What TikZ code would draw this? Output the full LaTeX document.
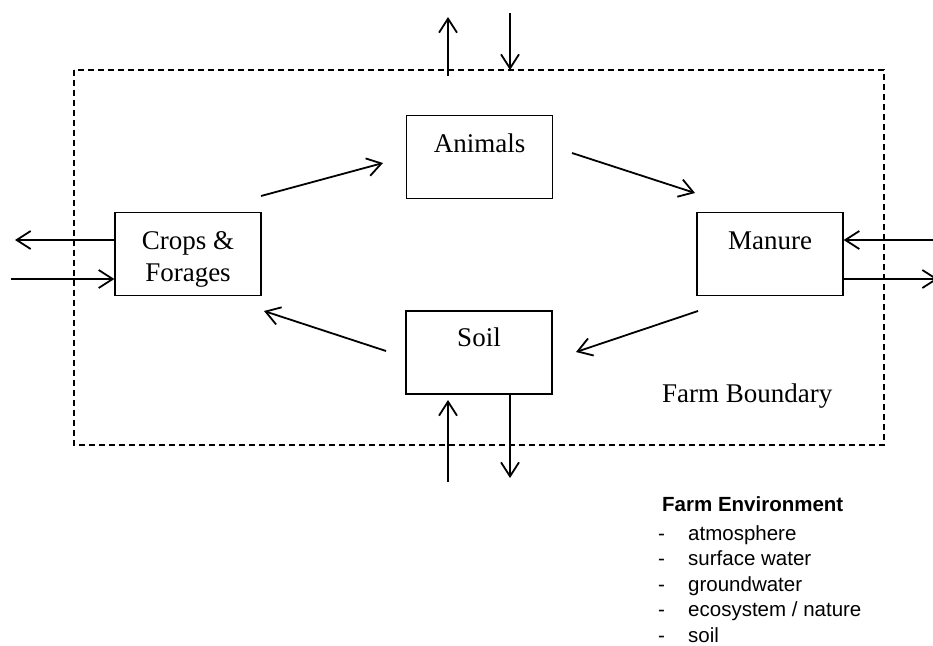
\documentclass[tikz,border=0pt]{standalone}
\usepackage{fontspec}
\setmainfont{Liberation Serif}
\newfontfamily\legendfont{Liberation Sans}
\usetikzlibrary{arrows.meta}
\tikzset{
  box/.style={draw, line width=1.3pt, minimum width=146pt, minimum height=83pt, inner sep=0pt},
  lbl/.style={font=\fontsize{27}{31}\selectfont, anchor=base, inner sep=0pt},
  leg/.style={font=\legendfont\fontsize{20.5}{24}\selectfont, anchor=base west, inner sep=0pt},
  arr/.style={line width=1.8pt, -{Straight Barb[length=14pt,width=18pt]}},
  boundary/.style={line width=1.5pt, dash pattern=on 6pt off 4pt}
}
\begin{document}
\begin{tikzpicture}[x=1pt,y=-1pt]
\useasboundingbox (0,0) rectangle (933,645);
% boundary
\draw[boundary] (74,70) rectangle (884,445);
% boxes
\node[box] (animals) at (479.5,157) {};
\node[box] (crops) at (188,254) {};
\node[box] (manure) at (770,254) {};
\node[box] (soil) at (479,352.5) {};
% box texts
\node[lbl] (tanimals) at (479.5,152) {Animals};
\node[lbl] (tcrops1) at (188,249) {Crops \&};
\node[lbl] (tcrops2) at (188,281) {Forages};
\node[lbl] (tmanure) at (770,249) {Manure};
\node[lbl] (tsoil) at (479,346) {Soil};
\node[lbl, anchor=base west] (tbound) at (662,402) {Farm Boundary};
% cycle arrow endpoints
\coordinate (ca1) at (261,196); \coordinate (ca2) at (383,163);
\coordinate (am1) at (572,153); \coordinate (am2) at (695,193);
\coordinate (ms1) at (698,311); \coordinate (ms2) at (576,352);
\coordinate (sc1) at (386,351); \coordinate (sc2) at (264,311);
\draw[arr] (ca1) -- (ca2);
\draw[arr] (am1) -- (am2);
\draw[arr] (ms1) -- (ms2);
\draw[arr] (sc1) -- (sc2);
% exchange arrows: top
\coordinate (tu1) at (448,76); \coordinate (tu2) at (448,17);
\coordinate (td1) at (510,13); \coordinate (td2) at (510,70);
\draw[arr] (tu1) -- (tu2);
\draw[arr] (td1) -- (td2);
% bottom
\coordinate (bu1) at (448,482); \coordinate (bu2) at (448,400);
\coordinate (bd2) at (510,478);
\draw[arr] (bu1) -- (bu2);
\draw[arr] (soil.south -| bd2) -- (bd2);
% left
\coordinate (lo2) at (15,240); \coordinate (li1) at (11,279);
\draw[arr] (crops.west |- lo2) -- (lo2);
\draw[arr] (li1) -- (crops.west |- li1);
% right
\coordinate (ri1) at (940,240); \coordinate (ro2) at (938,279);
\draw[arr] (ri1) -- (manure.east |- ri1);
\draw[arr] (manure.east |- ro2) -- (ro2);
% legend
\node[leg, font=\legendfont\bfseries\fontsize{20.5}{24}\selectfont] (legtitle) at (662,511) {Farm Environment};
\node[leg] (d1) at (658,540) {-}; \node[leg] (l1) at (688,540) {atmosphere};
\node[leg] (d2) at (658,565.5) {-}; \node[leg] (l2) at (688,565.5) {surface water};
\node[leg] (d3) at (658,591) {-}; \node[leg] (l3) at (688,591) {groundwater};
\node[leg] (d4) at (658,616.5) {-}; \node[leg] (l4) at (688,616.5) {ecosystem / nature};
\node[leg] (d5) at (658,642) {-}; \node[leg] (l5) at (688,642) {soil};
\end{tikzpicture}
\end{document}
